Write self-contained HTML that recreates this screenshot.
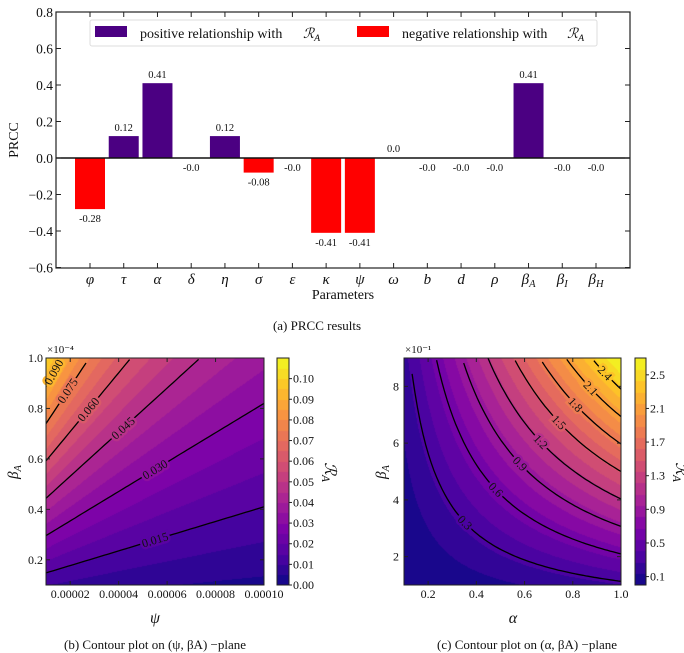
<!DOCTYPE html>
<html><head><meta charset="utf-8"><style>
body{margin:0;background:#fff;width:684px;height:653px;overflow:hidden;position:relative;font-family:"Liberation Serif",serif}
svg{position:absolute;left:0;top:0}
canvas{position:absolute}
text{font-family:"Liberation Serif","DejaVu Serif",serif;fill:#111}
</style></head><body>
<canvas id="cb" width="218" height="227" style="left:46px;top:358px"></canvas>
<canvas id="cbb" width="12" height="227" style="left:277px;top:358px"></canvas>
<canvas id="cc" width="217" height="227" style="left:404px;top:358px"></canvas>
<canvas id="ccb" width="11" height="227" style="left:635px;top:358px"></canvas>
<svg id="s" width="684" height="653" xmlns="http://www.w3.org/2000/svg"></svg>
<script>
const params=['φ','τ','α','δ','η','σ','ε','κ','ψ','ω','b','d','ρ','β_A','β_I','β_H'];
const prcc=[-0.28,0.12,0.41,-0.001,0.12,-0.08,-0.001,-0.41,-0.41,0.0,-0.001,-0.001,-0.001,0.41,-0.001,-0.001];
const prccLabels=['-0.28','0.12','0.41','-0.0','0.12','-0.08','-0.0','-0.41','-0.41','0.0','-0.0','-0.0','-0.0','0.41','-0.0','-0.0'];
const yTicks=[0.8,0.6,0.4,0.2,0.0,-0.2,-0.4,-0.6];
const bLevels=[0.015,0.030,0.045,0.060,0.075,0.090];
const cLevels=[0.3,0.6,0.9,1.2,1.5,1.8,2.1,2.4];
const bCbTicks=[0.00,0.01,0.02,0.03,0.04,0.05,0.06,0.07,0.08,0.09,0.10];
const cCbTicks=[0.1,0.5,0.9,1.3,1.7,2.1,2.5];
const bXTicks=[0.00002,0.00004,0.00006,0.00008,0.00010];
const bYTicks=[0.2,0.4,0.6,0.8,1.0];
const cXTicks=[0.2,0.4,0.6,0.8,1.0];
const cYTicks=[2,4,6,8];

const S=document.getElementById('s');const NS='http://www.w3.org/2000/svg';
function el(t,a,txt){const e=document.createElementNS(NS,t);for(const k in a)e.setAttribute(k,a[k]);if(txt!==undefined)e.textContent=txt;S.appendChild(e);return e;}
function greek(label,x,y,size,anchor){
  const p=label.split('_');const t=el('text',{x:x,y:y,'font-size':size,'text-anchor':anchor||'middle','font-style':'italic'});
  
  const a=document.createElementNS(NS,'tspan');a.textContent=p[0];t.appendChild(a);
  if(p[1]){const b=document.createElementNS(NS,'tspan');b.setAttribute('font-size',size*0.7);b.setAttribute('dy','3');b.textContent=p[1];t.appendChild(b);}
  return t;}
// ---- chart a
const L=56,R=630,T=12,B=268;
const ya=v=>158-v*182.5;
const xa=i=>90+i*(596-90)/15;
let r=el('rect',{x:L,y:T,width:R-L,height:B-T,fill:'none',stroke:'#222','stroke-width':1.2});

prcc.forEach((v,i)=>{
  const y0=ya(Math.max(v,0)),h=Math.abs(ya(v)-ya(0));
  const b=el('rect',{x:xa(i)-15,y:y0,width:30,height:h,fill:v>0?'#4b0082':'#ff0000'});
  
  const ly=v>0.0001?ya(v)-5:(v===0?ya(0)-6:ya(v)+13);
  const t=el('text',{x:xa(i),y:ly,'font-size':10.5,'text-anchor':'middle'},prccLabels[i]);
  
  greek(params[i],xa(i),284,15);
  el('line',{x1:xa(i),x2:xa(i),y1:B,y2:B-5,stroke:'#222'});
  el('line',{x1:xa(i),x2:xa(i),y1:T,y2:T+5,stroke:'#222'});
});
el('line',{x1:L,x2:R,y1:ya(0),y2:ya(0),stroke:'#111','stroke-width':1.5});
yTicks.forEach(v=>{
  el('line',{x1:L,x2:L+5,y1:ya(v),y2:ya(v),stroke:'#222'});el('line',{x1:R,x2:R-5,y1:ya(v),y2:ya(v),stroke:'#222'});
  const t=el('text',{x:L-3,y:ya(v)+5,'font-size':13.5,'text-anchor':'end'},(v<0?'−':'')+Math.abs(v).toFixed(1));
  
});
let t=el('text',{x:0,y:0,'font-size':14,'text-anchor':'middle',transform:'translate(18,140) rotate(-90)'},'PRCC');

t=el('text',{x:343,y:299,'font-size':14,'text-anchor':'middle'},'Parameters');

let lg=el('rect',{x:90,y:20,width:507,height:26,fill:'#fff',stroke:'#ddd',rx:2});

el('rect',{x:95,y:26,width:32,height:11,fill:'#4b0082'});
t=el('text',{x:140,y:38,'font-size':14},'positive relationship with ');
greek('ℛ_A',303,38,14,'start');
el('rect',{x:357,y:26,width:32,height:11,fill:'#ff0000'});
t=el('text',{x:402,y:38,'font-size':14},'negative relationship with ');
greek('ℛ_A',567,38,14,'start');
t=el('text',{x:317,y:330,'font-size':13,'text-anchor':'middle'},'(a) PRCC results');

// ---- plasma
const stops=[[13,8,135],[75,3,161],[125,3,168],[168,34,150],[203,70,121],[229,107,93],[248,148,65],[253,195,40],[240,249,33]];
function plasma(u){u=Math.max(0,Math.min(1,u));const f=u*8,i=Math.min(7,Math.floor(f)),w=f-i;const a=stops[i],b=stops[i+1];return [0,1,2].map(k=>Math.round(a[k]+(b[k]-a[k])*w));}
function qcol(v,vmax,nlev){const q=Math.min(nlev-1,Math.max(0,Math.floor(v/vmax*nlev)));return plasma((q+0.5)/nlev);}
function fill(id,W,H,fn,vmax,nlev){
  const c=document.getElementById(id).getContext('2d');const img=c.createImageData(W,H);
  for(let py=0;py<H;py++)for(let px=0;px<W;px++){const col=qcol(fn(px,py),vmax,nlev);const o=(py*W+px)*4;img.data[o]=col[0];img.data[o+1]=col[1];img.data[o+2]=col[2];img.data[o+3]=255;}
  c.putImageData(img,0,0);}
// plot b
const bx=p=>46+(p-0.00001)/0.00009*218, by=b=>585-(b-0.1)/0.9*227;
const Rb=(p,b)=>5.15e-6*b/(4.08e-5+p);
fill('cb',218,227,(px,py)=>Rb(0.00001+px/218*0.00009,0.1+(227-py)/227*0.9),0.11,22);
fill('cbb',12,227,(px,py)=>(227-py)/227*0.11,0.11,22);
// plot c
const cx=a=>404+(a-0.1)/0.9*217, cy=b=>585-(b-0.1)/0.8*227;
const Rc=(a,b)=>Math.max(0,3.1*a*b-0.05);
fill('cc',217,227,(px,py)=>Rc(0.1+px/217*0.9,0.1+(227-py)/227*0.8),2.7,20);
fill('ccb',11,227,(px,py)=>(227-py)/227*2.7,2.7,20);
function label(x,y,ang,s,col,name){
  const g=el('text',{x:x,y:y+4,'font-size':12,'text-anchor':'middle',transform:`rotate(${ang} ${x} ${y})`,stroke:`rgb(${col.join(',')})`,'stroke-width':5,'paint-order':'stroke'},s);
  }
// contour lines b
bLevels.forEach(lv=>{
  let d='';for(let k=0;k<=60;k++){const p=0.00001+k/60*0.00009;const b=lv*(4.08e-5+p)/5.15e-6;if(b>1)break;d+=(d?'L':'M')+bx(p).toFixed(1)+' '+by(b).toFixed(1);}
  if(lv*(4.08e-5+0.00001)/5.15e-6>1)return;
  const ln=el('path',{d:d,fill:'none',stroke:'#000','stroke-width':1.3});
  const pm=0.00001+0.00009*Math.min(0.5,(1/(lv/5.15e-6)-4.08e-5-0.00001)/0.00009*0.5);
  const bb=lv*(4.08e-5+pm)/5.15e-6;const x=bx(pm),y=by(bb);
  const ang=Math.atan2(by(lv*(4.08e-5+pm+1e-5)/5.15e-6)-y,bx(pm+1e-5)-x)*180/Math.PI;
  label(x,y,ang,lv.toFixed(3),qcol(lv,0.11,22),'contour-label-b');
});
// contour lines c
cLevels.forEach(lv=>{
  let d='';for(let k=0;k<=80;k++){const a=0.1+k/80*0.9;const b=(lv+0.05)/(3.1*a);if(b>0.9||b<0.1)continue;d+=(d?'L':'M')+cx(a).toFixed(1)+' '+cy(b).toFixed(1);}
  if(!d)return;
  const ln=el('path',{d:d,fill:'none',stroke:'#000','stroke-width':1.3});
  const am=Math.min(0.97,Math.sqrt((lv+0.05)/3.1)*1.05);const bm=(lv+0.05)/(3.1*am);
  const x=cx(am),y=cy(bm);const ang=Math.atan2(cy((lv+0.05)/(3.1*(am+0.01)))-y,cx(am+0.01)-x)*180/Math.PI;
  label(x,y,ang,lv.toFixed(1),qcol(lv,2.7,20),'contour-label-c');
});
function frame(x,y,w,h,n){const f=el('rect',{x:x,y:y,width:w,height:h,fill:'none',stroke:'#222','stroke-width':1});}
frame(46,358,218,227,'plot-area-b');frame(277,358,12,227,'colorbar-b-frame');frame(404,358,217,227,'plot-area-c');frame(635,358,11,227,'colorbar-c-frame');
function tx(x,y,s,size,anc,name){const e=el('text',{x:x,y:y,'font-size':size,'text-anchor':anc},s);return e;}
bXTicks.forEach(v=>{el('line',{x1:bx(v),x2:bx(v),y1:585,y2:581,stroke:'#222'});el('line',{x1:bx(v),x2:bx(v),y1:358,y2:362,stroke:'#222'});tx(bx(v),598,v.toFixed(5),12,'middle','x-tick-label-b');});
bYTicks.forEach(v=>{el('line',{x1:46,x2:50,y1:by(v),y2:by(v),stroke:'#222'});el('line',{x1:264,x2:260,y1:by(v),y2:by(v),stroke:'#222'});tx(43,by(v)+4,v.toFixed(1),12,'end','y-tick-label-b');});
cXTicks.forEach(v=>{el('line',{x1:cx(v),x2:cx(v),y1:585,y2:581,stroke:'#222'});el('line',{x1:cx(v),x2:cx(v),y1:358,y2:362,stroke:'#222'});tx(cx(v),598,v.toFixed(1),12,'middle','x-tick-label-c');});
cYTicks.forEach(v=>{const y=cy(v/10);el('line',{x1:404,x2:408,y1:y,y2:y,stroke:'#222'});el('line',{x1:621,x2:617,y1:y,y2:y,stroke:'#222'});tx(399,y+4,String(v),12,'end','y-tick-label-c');});
bCbTicks.forEach(v=>{const y=585-v/0.11*227;el('line',{x1:289,x2:292,y1:y,y2:y,stroke:'#222'});tx(293,y+4,v.toFixed(2),12,'start','colorbar-tick-b');});
cCbTicks.forEach(v=>{const y=585-v/2.7*227;el('line',{x1:646,x2:649,y1:y,y2:y,stroke:'#222'});tx(650,y+4,v.toFixed(1),12,'start','colorbar-tick-c');});
tx(47,353,'×10⁻⁴',11,'start','offset-b');tx(405,353,'×10⁻¹',11,'start','offset-c');
greek('ψ',155,623,16);greek('α',513,623,16);
let g1=greek('β_A',0,0,15);g1.setAttribute('transform','translate(18,472) rotate(-90)');
let g2=greek('β_A',0,0,15);g2.setAttribute('transform','translate(386,472) rotate(-90)');
let g3=greek('ℛ_A',0,0,16);g3.setAttribute('transform','translate(325,472) rotate(90)');
let g4=greek('ℛ_A',0,0,16);g4.setAttribute('transform','translate(676,472) rotate(90)');
tx(155,649,'(b) Contour plot on (ψ, βA) −plane',13,'middle','caption-b');
tx(527,649,'(c) Contour plot on (α, βA) −plane',13,'middle','caption-c');
</script>
</body></html>
